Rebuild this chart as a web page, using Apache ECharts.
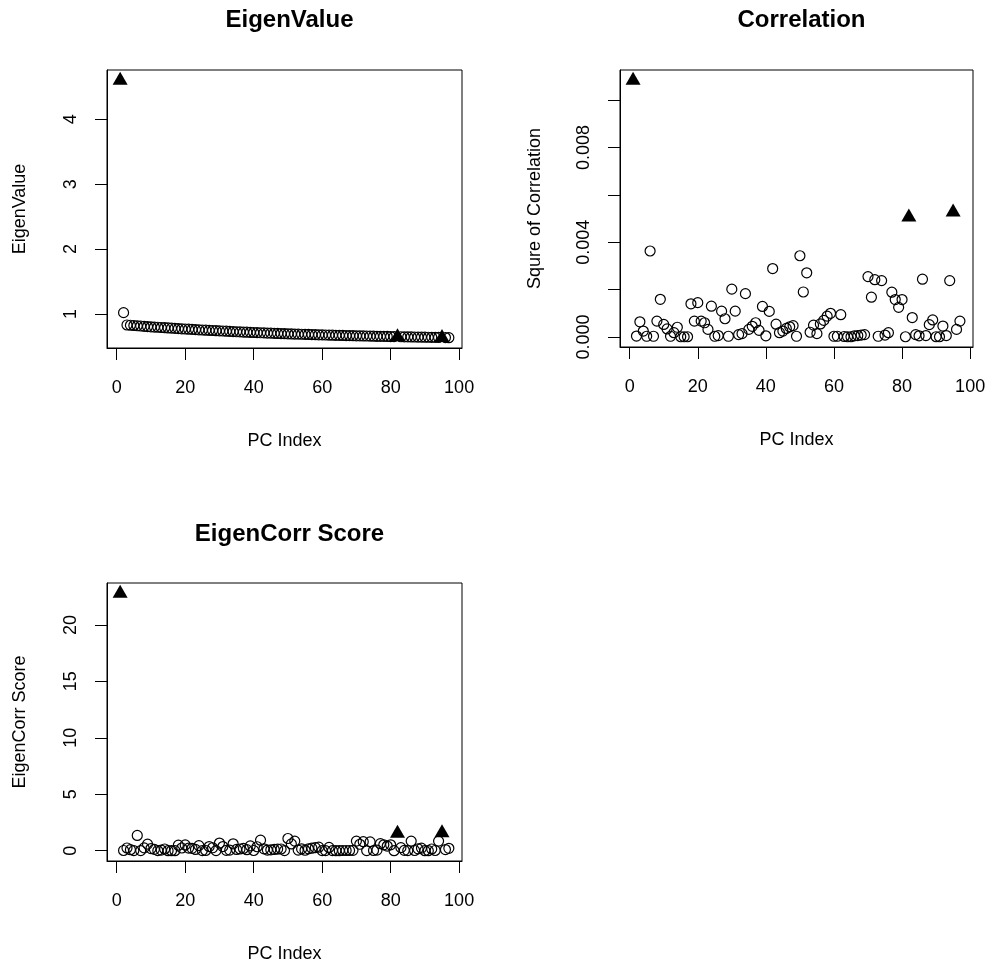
<!DOCTYPE html>
<html><head><meta charset="utf-8">
<script src="https://cdn.jsdelivr.net/npm/echarts@6/dist/echarts.min.js"></script>
<style>html,body{margin:0;padding:0;background:#fff}#c{width:992px;height:969px}</style>
</head><body><div id="c"></div>
<script>
// ---- data ----
const pcIndex = [];
for (let i = 1; i <= 97; i++) pcIndex.push(i);

const eigenValue = [
 4.60, 1.02, 0.830, 0.826, 0.822, 0.818, 0.814, 0.810, 0.806, 0.802,
 0.798, 0.795, 0.791, 0.788, 0.784, 0.781, 0.778, 0.774, 0.771, 0.768,
 0.765, 0.762, 0.759, 0.756, 0.753, 0.750, 0.747, 0.745, 0.742, 0.739,
 0.737, 0.734, 0.731, 0.729, 0.726, 0.724, 0.721, 0.719, 0.717, 0.714,
 0.712, 0.710, 0.708, 0.706, 0.704, 0.702, 0.700, 0.698, 0.696, 0.694,
 0.692, 0.690, 0.689, 0.687, 0.685, 0.684, 0.682, 0.680, 0.679, 0.677,
 0.676, 0.674, 0.673, 0.671, 0.670, 0.669, 0.667, 0.666, 0.665, 0.663,
 0.662, 0.661, 0.660, 0.659, 0.657, 0.656, 0.655, 0.654, 0.653, 0.652,
 0.651, 0.650, 0.649, 0.648, 0.647, 0.646, 0.645, 0.644, 0.643, 0.642,
 0.641, 0.640, 0.639, 0.638, 0.637, 0.636, 0.634];

const corrSquare = [
 0.01084, 0.00004, 0.00064, 0.00025, 0.00003, 0.00363, 0.00003, 0.00067, 0.00159, 0.00053,
 0.00034, 0.00003, 0.00018, 0.00041, 0.00001, 0.00001, 0.00001, 0.00140, 0.00067, 0.00145,
 0.00067, 0.00060, 0.00032, 0.00130, 0.00003, 0.00006, 0.00109, 0.00077, 0.00003, 0.00202,
 0.00109, 0.00010, 0.00014, 0.00183, 0.00032, 0.00045, 0.00060, 0.00028, 0.00129, 0.00005,
 0.00108, 0.00289, 0.00054, 0.00018, 0.00025, 0.00036, 0.00043, 0.00048, 0.00003, 0.00343,
 0.00190, 0.00271, 0.00020, 0.00050, 0.00014, 0.00055, 0.00070, 0.00088, 0.00100, 0.00003,
 0.00003, 0.00094, 0.00002, 0.00001, 0.00001, 0.00005, 0.00006, 0.00008, 0.00010, 0.00255,
 0.00168, 0.00242, 0.00003, 0.00238, 0.00008, 0.00018, 0.00189, 0.00158, 0.00125, 0.00158,
 0.00001, 0.00507, 0.00082, 0.00010, 0.00005, 0.00244, 0.00006, 0.00052, 0.00072, 0.00001,
 0.00001, 0.00046, 0.00006, 0.00238, 0.00528, 0.00032, 0.00067];

const eigenCorrScore = [
 22.8, 0.02, 0.24, 0.09, 0.01, 1.35, 0.01, 0.25, 0.58, 0.19,
 0.12, 0.01, 0.06, 0.15, 0.00, 0.00, 0.00, 0.49, 0.24, 0.51,
 0.23, 0.21, 0.11, 0.45, 0.01, 0.02, 0.37, 0.26, 0.01, 0.68,
 0.37, 0.03, 0.05, 0.61, 0.11, 0.15, 0.20, 0.09, 0.42, 0.02,
 0.35, 0.93, 0.17, 0.06, 0.08, 0.11, 0.14, 0.15, 0.01, 1.08,
 0.60, 0.85, 0.06, 0.16, 0.04, 0.17, 0.22, 0.27, 0.31, 0.01,
 0.01, 0.29, 0.01, 0.00, 0.00, 0.02, 0.02, 0.02, 0.03, 0.85,
 0.57, 0.80, 0.01, 0.78, 0.02, 0.05, 0.62, 0.52, 0.41, 0.52,
 0.00, 1.55, 0.27, 0.03, 0.01, 0.85, 0.02, 0.17, 0.23, 0.00,
 0.00, 0.15, 0.02, 0.85, 1.60, 0.10, 0.21];

const highlightPCs = [1, 82, 95];

const xTicks = [0, 20, 40, 60, 80, 100];
const eigenTicks = [1, 2, 3, 4];
const corrTicks = [0, 0.002, 0.004, 0.006, 0.008, 0.010];
const corrTickLabels = [0, 0.004, 0.008];
const scoreTicks = [0, 5, 10, 15, 20];

const titles = ['EigenValue', 'Correlation', 'EigenCorr Score'];
const yNames = ['EigenValue', 'Squre of Correlation', 'EigenCorr Score'];
const xName = 'PC Index';

// ---- chart ----
const FONT = '"Liberation Sans", Arial, Helvetica, sans-serif';
function rng(a) { const mn = Math.min(...a), mx = Math.max(...a), d = (mx - mn) * 0.04; return [mn - d, mx + d]; }
const xr = rng(pcIndex);

const grids = [
  { left: 107, top: 70, width: 355, height: 278 },
  { left: 620, top: 70, width: 353, height: 277 },
  { left: 107, top: 583, width: 355, height: 278 }
];

function makeX(gi) {
  return {
    type: 'value', gridIndex: gi, min: xr[0], max: xr[1],
    name: xName, nameLocation: 'middle', nameGap: 84,
    nameTextStyle: { fontFamily: FONT, fontSize: 18, color: '#000' },
    axisLine: { show: true, onZero: false, lineStyle: { color: '#000', width: 1 } },
    splitLine: { show: false },
    axisTick: { show: true, length: 12, customValues: xTicks, lineStyle: { color: '#000', width: 1 } },
    axisLabel: { customValues: xTicks, margin: 31, fontFamily: FONT, fontSize: 18, color: '#000' }
  };
}
function makeY(gi, data, ticks, labels, fmt, nameGap) {
  const r = rng(data);
  return {
    type: 'value', gridIndex: gi, min: r[0], max: r[1],
    name: yNames[gi], nameLocation: 'middle', nameGap: nameGap, nameRotate: 90,
    nameTextStyle: { fontFamily: FONT, fontSize: 18, color: '#000' },
    axisLine: { show: true, onZero: false, lineStyle: { color: '#000', width: 1 } },
    splitLine: { show: false },
    axisTick: { show: true, length: 12, customValues: ticks, lineStyle: { color: '#000', width: 1 } },
    axisLabel: { customValues: labels, rotate: 90, margin: 27, fontFamily: FONT, fontSize: 18, color: '#000', formatter: fmt }
  };
}
function split(vals) {
  const circ = [], tri = [];
  pcIndex.forEach((p, i) => { (highlightPCs.includes(p) ? tri : circ).push([p, vals[i]]); });
  return { circ, tri };
}
function seriesFor(gi, vals) {
  const s = split(vals);
  return [
    { type: 'scatter', xAxisIndex: gi, yAxisIndex: gi, data: s.circ, symbol: 'circle', symbolSize: 10, silent: true,
      itemStyle: { color: 'rgba(0,0,0,0)', borderColor: '#000', borderWidth: 1.2, opacity: 1 } },
    { type: 'scatter', xAxisIndex: gi, yAxisIndex: gi, data: s.tri, symbol: 'triangle', symbolSize: [15, 13], symbolOffset: [0, -2], silent: true,
      itemStyle: { color: '#000', opacity: 1 } }
  ];
}

const chart = echarts.init(document.getElementById('c'), null, { renderer: 'canvas' });
const titleStyle = { fontFamily: FONT, fontSize: 24, fontWeight: 'bold', color: '#000' };
chart.setOption({
  backgroundColor: '#fff',
  animation: false,
  title: [
    { text: titles[0], left: 284.5, top: 3, textAlign: 'center', textStyle: titleStyle },
    { text: titles[1], left: 796.5, top: 3, textAlign: 'center', textStyle: titleStyle },
    { text: titles[2], left: 284.5, top: 517, textAlign: 'center', textStyle: titleStyle }
  ],
  grid: grids.map(g => Object.assign({ show: true, borderColor: '#000', borderWidth: 1, backgroundColor: 'rgba(0,0,0,0)' }, g)),
  xAxis: [makeX(0), makeX(1), makeX(2)],
  yAxis: [
    makeY(0, eigenValue, eigenTicks, eigenTicks, v => String(v), 78),
    makeY(1, corrSquare, corrTicks, corrTickLabels, v => Number(v).toFixed(3), 76),
    makeY(2, eigenCorrScore, scoreTicks, scoreTicks, v => String(v), 78)
  ],
  series: [].concat(seriesFor(0, eigenValue), seriesFor(1, corrSquare), seriesFor(2, eigenCorrScore))
});
</script>
</body></html>
